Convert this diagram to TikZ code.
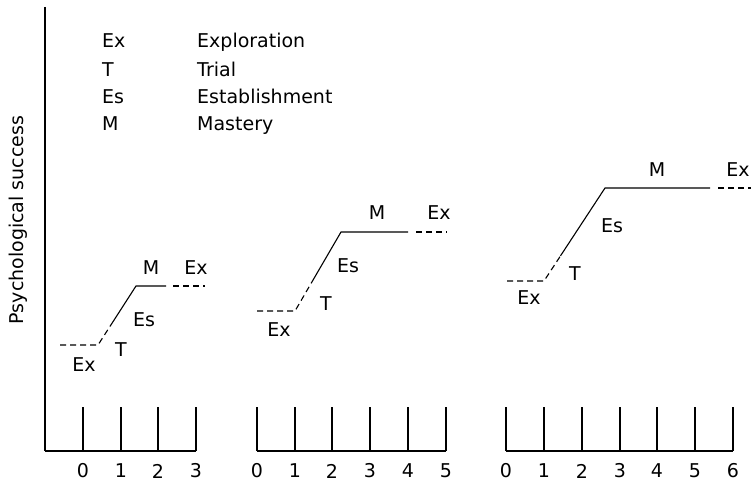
\documentclass[tikz,border=0pt]{standalone}
\usepackage{fontspec}
\setmainfont{DejaVu Sans}
\usetikzlibrary{calc}
\begin{document}
\begin{tikzpicture}[x=1pt,y=-1pt,
  axisline/.style={line width=1.1pt},
  curve/.style={line width=1.1pt},
  dsh/.style={line width=1.1pt, dash pattern=on 6pt off 4pt},
  lbl/.style={font=\fontsize{19}{23}\selectfont, inner sep=0pt},
  leg/.style={font=\fontsize{19}{23}\selectfont, inner sep=0pt, anchor=base west}]
\useasboundingbox (0,0) rectangle (751,495);

% y axis
\coordinate (ytop) at (45,7);
\coordinate (orig) at (45,451);
\draw[axisline] (ytop) -- (orig);
\node[lbl, rotate=90] (ylab) at (18,220) {Psychological success};

% legend
\node[leg] (l1a) at (102,48) {Ex};
\node[leg] (l1b) at (197,48) {Exploration};
\node[leg] (l2a) at (102,76) {T};
\node[leg] (l2b) at (197,76) {Trial};
\node[leg] (l3a) at (102,103) {Es};
\node[leg] (l3b) at (197,103) {Establishment};
\node[leg] (l4a) at (102,130) {M};
\node[leg] (l4b) at (197,130) {Mastery};

% group 1 axis
\coordinate (g1end) at (196,451);
\draw[axisline] (orig) -- (g1end);
\foreach \x/\n in {83/0,121/1,158/2,196/3}{
  \coordinate (a1t\n) at (\x,407);
  \coordinate (a1b\n) at (\x,451);
  \draw[axisline] (a1t\n) -- (a1b\n);
  \node[lbl] (a1l\n) at (\x,471) {\n};
}
% group 2 axis
\coordinate (g2s) at (257,451);
\coordinate (g2e) at (446,451);
\draw[axisline] (g2s) -- (g2e);
\foreach \x/\n in {257/0,295/1,332/2,370/3,408/4,446/5}{
  \coordinate (a2t\n) at (\x,407);
  \coordinate (a2b\n) at (\x,451);
  \draw[axisline] (a2t\n) -- (a2b\n);
  \node[lbl] (a2l\n) at (\x,471) {\n};
}
% group 3 axis
\coordinate (g3s) at (506,451);
\coordinate (g3e) at (733,451);
\draw[axisline] (g3s) -- (g3e);
\foreach \x/\n in {506/0,544/1,582/2,620/3,657/4,695/5,733/6}{
  \coordinate (a3t\n) at (\x,407);
  \coordinate (a3b\n) at (\x,451);
  \draw[axisline] (a3t\n) -- (a3b\n);
  \node[lbl] (a3l\n) at (\x,471) {\n};
}

% curve 1
\coordinate (c1a) at (60,345);
\coordinate (c1b) at (98,345);
\coordinate (c1d) at (136,286);
\coordinate (c1c) at ($(c1b)!0.37!(c1d)$);
\coordinate (c1e) at (166,286);
\coordinate (c1f) at (173,286);
\coordinate (c1g) at (205,286);
\draw[dsh] (c1a) -- (c1b) -- (c1c);
\draw[curve] (c1c) -- (c1d) -- (c1e);
\draw[dsh] (c1f) -- (c1g);
\node[lbl] (e1a) at (84,365) {Ex};
\node[lbl] (t1) at (121,350) {T};
\node[lbl] (s1) at (144,320) {Es};
\node[lbl] (m1) at (151,268) {M};
\node[lbl] (e1b) at (196,268) {Ex};

% curve 2
\coordinate (c2a) at (257,311);
\coordinate (c2b) at (295,311);
\coordinate (c2d) at (341,232);
\coordinate (c2c) at ($(c2b)!0.35!(c2d)$);
\coordinate (c2e) at (408,232);
\coordinate (c2f) at (416,232);
\coordinate (c2g) at (447,232);
\draw[dsh] (c2a) -- (c2b) -- (c2c);
\draw[curve] (c2c) -- (c2d) -- (c2e);
\draw[dsh] (c2f) -- (c2g);
\node[lbl] (e2a) at (279,330) {Ex};
\node[lbl] (t2) at (326,304) {T};
\node[lbl] (s2) at (348,266) {Es};
\node[lbl] (m2) at (377,213) {M};
\node[lbl] (e2b) at (439,213) {Ex};

% curve 3
\coordinate (c3a) at (507,281);
\coordinate (c3b) at (544,281);
\coordinate (c3d) at (605,188);
\coordinate (c3c) at ($(c3b)!0.27!(c3d)$);
\coordinate (c3e) at (710,188);
\coordinate (c3f) at (718,188);
\coordinate (c3g) at (751,188);
\draw[dsh] (c3a) -- (c3b) -- (c3c);
\draw[curve] (c3c) -- (c3d) -- (c3e);
\draw[dsh] (c3f) -- (c3g);
\node[lbl] (e3a) at (529,298) {Ex};
\node[lbl] (t3) at (575,274) {T};
\node[lbl] (s3) at (612,226) {Es};
\node[lbl] (m3) at (657,170) {M};
\node[lbl] (e3b) at (738,170) {Ex};
\end{tikzpicture}
\end{document}
